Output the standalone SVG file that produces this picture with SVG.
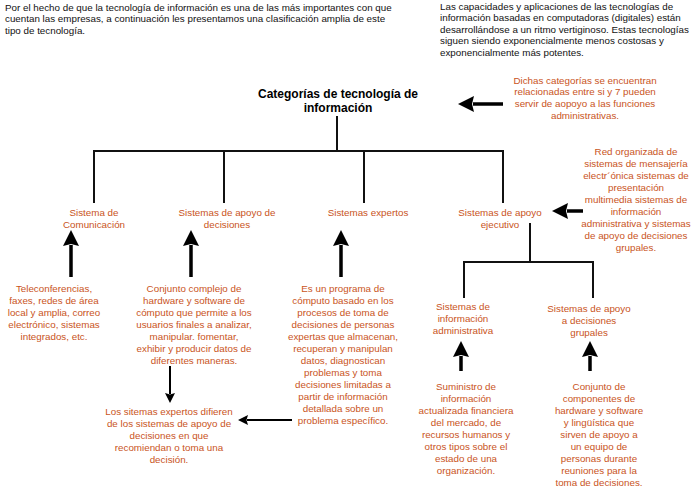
<svg xmlns="http://www.w3.org/2000/svg" width="695" height="486" viewBox="0 0 695 486">
<style>
  text { font-family: "Liberation Sans", Arial, sans-serif; font-size: 9.8px; }
  .intro { fill: #111111; font-size: 10px; }
  .o { fill: #C9541C; text-anchor: middle; }
  .title { fill: #000000; font-weight: bold; font-size: 12px; text-anchor: middle; }
  .tree { fill: none; stroke: #111111; stroke-width: 2; stroke-linejoin: miter; stroke-linecap: butt; }
  .thick { stroke: #000000; stroke-width: 3.5; }
  .thin { stroke: #000000; stroke-width: 2; }
</style>
<defs>
  <marker id="big" viewBox="0 0 16 16" refX="1" refY="8" markerWidth="16" markerHeight="16" markerUnits="userSpaceOnUse" orient="auto">
    <path d="M0,0 L16,8 L0,16 L2,8 z" fill="#000000"/>
  </marker>
  <marker id="small" viewBox="0 0 10 10" refX="1" refY="5" markerWidth="10" markerHeight="10" markerUnits="userSpaceOnUse" orient="auto">
    <path d="M0,0 L10,5 L0,10 L1.5,5 z" fill="#000000"/>
  </marker>
</defs>
<rect width="695" height="486" fill="#ffffff"/>

<g id="intro-left" class="intro">
  <text x="5" y="10.5">Por el hecho de que la tecnología de información es una de las más importantes con que</text>
  <text x="5" y="22.3">cuentan las empresas, a continuación les presentamos una clasificación amplia de este</text>
  <text x="5" y="34.1">tipo de tecnología.</text>
</g>

<g id="intro-right" class="intro">
  <text x="440" y="9.5">Las capacidades y aplicaciones de las tecnologías de</text>
  <text x="440" y="21">información basadas en computadoras (digitales) están</text>
  <text x="440" y="32.5">desarrollándose a un ritmo vertiginoso. Estas tecnologías</text>
  <text x="440" y="44">siguen siendo exponencialmente menos costosas y</text>
  <text x="440" y="55.5">exponencialmente más potentes.</text>
</g>

<g id="title">
  <text class="title" x="338" y="97.5">Categorías de tecnología de</text>
  <text class="title" x="338" y="111.5">información</text>
</g>

<g id="note-categorias" class="o">
  <text x="585" y="83.5">Dichas categorías se encuentran</text>
  <text x="585" y="95.2">relacionadas entre si y 7 pueden</text>
  <text x="585" y="106.9">servir de aopoyo a las funciones</text>
  <text x="585" y="118.6">administrativas.</text>
</g>

<g id="sistema-comunicacion" class="o">
  <text x="94" y="215.5">Sistema de</text>
  <text x="94" y="227.5">Comunicación</text>
</g>

<g id="sistemas-apoyo-decisiones" class="o">
  <text x="227" y="215.5">Sistemas de apoyo de</text>
  <text x="227" y="227.5">decisiones</text>
</g>

<g id="sistemas-expertos" class="o">
  <text x="368" y="215.5">Sistemas expertos</text>
</g>

<g id="sistemas-apoyo-ejecutivo" class="o">
  <text x="500" y="215.5">Sistemas de apoyo</text>
  <text x="500" y="227.5">ejecutivo</text>
</g>

<g id="note-red" class="o">
  <text x="636" y="154.5">Red organizada de</text>
  <text x="636" y="166.5">sistemas de mensajería</text>
  <text x="636" y="178.5">electr´ónica sistemas de</text>
  <text x="636" y="190.5">presentación</text>
  <text x="636" y="202.5">multimedia sistemas de</text>
  <text x="636" y="214.5">información</text>
  <text x="636" y="226.5">administrativa y sistemas</text>
  <text x="636" y="238.5">de apoyo de decisiones</text>
  <text x="636" y="250.5">grupales.</text>
</g>

<g id="note-teleconferencias" class="o">
  <text x="54" y="291.5">Teleconferencias,</text>
  <text x="54" y="303.5">faxes, redes de área</text>
  <text x="54" y="315.5">local y amplia, correo</text>
  <text x="54" y="327.5">electrónico, sistemas</text>
  <text x="54" y="339.5">integrados, etc.</text>
</g>

<g id="note-conjunto-complejo" class="o">
  <text x="194" y="291.5">Conjunto complejo de</text>
  <text x="194" y="303.5">hardware y software de</text>
  <text x="194" y="315.5">cómputo que permite a los</text>
  <text x="194" y="327.5">usuarios finales a analizar,</text>
  <text x="194" y="339.5">manipular. fomentar,</text>
  <text x="194" y="351.5">exhibir y producir datos de</text>
  <text x="194" y="363.5">diferentes maneras.</text>
</g>

<g id="note-programa" class="o">
  <text x="343" y="291.5">Es un programa de</text>
  <text x="343" y="303.5">cómputo basado en los</text>
  <text x="343" y="315.5">procesos de toma de</text>
  <text x="343" y="327.5">decisiones de personas</text>
  <text x="343" y="339.5">expertas que almacenan,</text>
  <text x="343" y="351.5">recuperan y manipulan</text>
  <text x="343" y="363.5">datos, diagnostican</text>
  <text x="343" y="375.5">problemas y toma</text>
  <text x="343" y="387.5">decisiones limitadas a</text>
  <text x="343" y="399.5">partir de información</text>
  <text x="343" y="411.5">detallada sobre un</text>
  <text x="343" y="423.5">problema específico.</text>
</g>

<g id="note-diferencia" class="o">
  <text x="169" y="414.5">Los sitemas expertos difieren</text>
  <text x="169" y="426.5">de los sistemas de apoyo de</text>
  <text x="169" y="438.5">decisiones en que</text>
  <text x="169" y="450.5">recomiendan o toma una</text>
  <text x="169" y="462.5">decisión.</text>
</g>

<g id="sistemas-informacion-administrativa" class="o">
  <text x="463" y="309.5">Sistemas de</text>
  <text x="463" y="321.5">información</text>
  <text x="463" y="333.5">administrativa</text>
</g>

<g id="sistemas-apoyo-grupales" class="o">
  <text x="589" y="311.5">Sistemas de apoyo</text>
  <text x="589" y="323.5">a decisiones</text>
  <text x="589" y="335.5">grupales</text>
</g>

<g id="note-suministro" class="o">
  <text x="466" y="389.5">Suministro de</text>
  <text x="466" y="401.5">información</text>
  <text x="466" y="413.5">actualizada financiera</text>
  <text x="466" y="425.5">del mercado, de</text>
  <text x="466" y="437.5">recursos humanos y</text>
  <text x="466" y="449.5">otros tipos sobre el</text>
  <text x="466" y="461.5">estado de una</text>
  <text x="466" y="473.5">organización.</text>
</g>

<g id="note-conjunto-componentes" class="o">
  <text x="599" y="389.5">Conjunto de</text>
  <text x="599" y="401.5">componentes de</text>
  <text x="599" y="413.5">hardware y software</text>
  <text x="599" y="425.5">y lingüística que</text>
  <text x="599" y="437.5">sirven de apoyo a</text>
  <text x="599" y="449.5">un equipo de</text>
  <text x="599" y="461.5">personas durante</text>
  <text x="599" y="473.5">reuniones para la</text>
  <text x="599" y="485.5">toma de decisiones.</text>
</g>

<g id="connectors">
  <path class="tree" d="M337,116 V151 M94,203 V151 H503 V203 M224,151 V203 M364,151 V203"/>
  <path class="tree" d="M530,223 V262 M464,298 V262 H593 V298"/>
  <line class="thick" x1="503" y1="104" x2="473" y2="104" marker-end="url(#big)"/>
  <line class="thick" x1="583" y1="211" x2="567" y2="211" marker-end="url(#big)"/>
  <line class="thick" x1="71" y1="277" x2="71" y2="245" marker-end="url(#big)"/>
  <line class="thick" x1="191" y1="277" x2="191" y2="245" marker-end="url(#big)"/>
  <line class="thick" x1="341" y1="277" x2="341" y2="245" marker-end="url(#big)"/>
  <line class="thick" x1="461" y1="371" x2="461" y2="356" marker-end="url(#big)"/>
  <line class="thick" x1="590" y1="371" x2="590" y2="356" marker-end="url(#big)"/>
  <line class="thin" x1="170" y1="366" x2="170" y2="394" marker-end="url(#small)"/>
  <line class="thin" x1="292" y1="420" x2="247" y2="420" marker-end="url(#small)"/>
</g>
</svg>
